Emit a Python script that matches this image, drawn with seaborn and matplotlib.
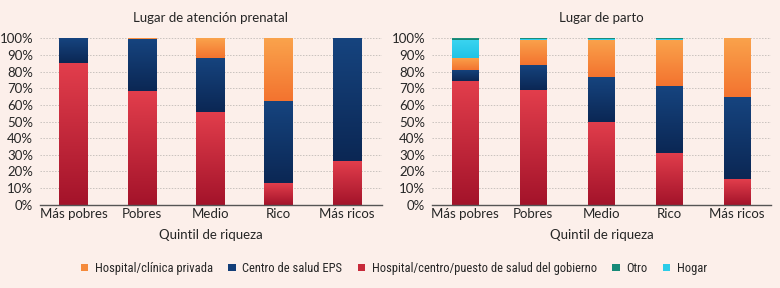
import numpy as np
import pandas as pd
import matplotlib
matplotlib.use("Agg")
import matplotlib.pyplot as plt
from matplotlib import font_manager
from matplotlib.colors import LinearSegmentedColormap
from matplotlib.patches import Patch
import seaborn as sns


# DATA (percent of births)

quintiles = ['Más pobres', 'Pobres', 'Medio', 'Rico', 'Más ricos']

# prenatal care
prenatal_gobierno = [85.0, 68.3, 55.5, 13.0, 26.0]
prenatal_eps = [15.0, 31.1, 32.7, 49.5, 74.0]
prenatal_privada = [0.0, 0.6, 11.8, 37.5, 0.0]
prenatal_hogar = [0.0, 0.0, 0.0, 0.0, 0.0]
prenatal_otro = [0.0, 0.0, 0.0, 0.0, 0.0]

# delivery
parto_gobierno = [74.3, 68.7, 49.9, 31.3, 15.6]
parto_eps = [6.7, 15.3, 26.8, 39.9, 48.9]
parto_privada = [7.3, 15.2, 22.5, 28.0, 35.5]
parto_hogar = [10.7, 0.5, 0.5, 0.5, 0.0]
parto_otro = [1.0, 0.3, 0.3, 0.3, 0.0]

legend_labels = [
    'Hospital/clínica privada',
    'Centro de salud EPS',
    'Hospital/centro/puesto de salud del gobierno',
    'Otro',
    'Hogar',
]

# STYLE

BG = '#fcefea'
TEXT = '#262626'

# (bottom colour, top colour) of each gradient
GRADIENTS = {
    'gobierno': ('#a3132a', '#e23e4c'),
    'eps': ('#0b2754', '#16447f'),
    'privada': ('#f3732f', '#faa34c'),
    'hogar': ('#1fc3e6', '#3ad4f0'),
    'otro': ('#13806f', '#1e9684'),
}
SOLID = {
    'privada': '#f58a3b',
    'eps': '#133e78',
    'gobierno': '#c72a3a',
    'otro': '#178a78',
    'hogar': '#2ccce8',
}


def pick_font(names):
    for name in names:
        try:
            font_manager.findfont(name, fallback_to_default=False)
            return name
        except Exception:
            continue
    return 'DejaVu Sans'


sns.set_theme(style='white')
MAIN_FONT = pick_font(['Lato', 'Open Sans', 'DejaVu Sans'])
NARROW_FONT = pick_font([
    'Roboto Condensed', 'Open Sans Condensed', 'Liberation Sans Narrow',
    'Arial Narrow', 'Roboto',
])
LEGEND_SIZE = 8.0 if NARROW_FONT in ('Roboto', 'DejaVu Sans') else 9.0
plt.rcParams['font.family'] = [MAIN_FONT, 'DejaVu Sans']


def stacked_gradient_bars(ax, layers, width):

    """
    layers: list of (key, values) from bottom to top.
    Bars are drawn with seaborn as cumulative heights,
    tallest first, then each one is filled with a gradient.
    """

    cumulative = np.cumsum([vals for _, vals in layers], axis=0)
    lowers = np.vstack([np.zeros(len(quintiles)), cumulative[:-1]])

    n = len(layers)
    for k in range(n - 1, -1, -1):
        key = layers[k][0]
        df = pd.DataFrame({'Quintil': quintiles, 'Valor': cumulative[k]})
        n_before = len(ax.patches)
        sns.barplot(
            data=df,
            x='Quintil',
            y='Valor',
            order=quintiles,
            color=SOLID[key],
            width=width,
            linewidth=0,
            saturation=1,
            errorbar=None,
            ax=ax,
        )
        cmap = LinearSegmentedColormap.from_list(key, GRADIENTS[key])
        grad = np.linspace(0, 1, 256).reshape(-1, 1)
        for i, patch in enumerate(ax.patches[n_before:]):
            lo = lowers[k][i]
            hi = cumulative[k][i]
            if hi - lo <= 0:
                continue
            patch.set_zorder(2 + (n - k) * 0.1)
            im = ax.imshow(
                grad,
                cmap=cmap,
                origin='lower',
                aspect='auto',
                extent=(patch.get_x(), patch.get_x() + patch.get_width(), lo, hi),
                zorder=2 + (n - k) * 0.1 + 0.05,
                interpolation='bilinear',
            )
            im.set_clip_path(patch)


def style_axes(ax, title):

    ax.set_facecolor(BG)
    ax.set_xlim(-0.49, 4.51)
    ax.set_ylim(0, 100)
    ax.set_yticks(np.arange(0, 101, 10))
    ax.set_yticklabels([f'{v}%' for v in range(0, 101, 10)])
    ax.yaxis.grid(True, color='#c9c2be', linestyle=(0, (1.5, 1.5)), linewidth=0.7, zorder=0)
    ax.set_axisbelow(True)
    for side in ['left', 'right', 'top']:
        ax.spines[side].set_visible(False)
    ax.spines['bottom'].set_color('#555555')
    ax.spines['bottom'].set_linewidth(1.0)
    ax.spines['bottom'].set_zorder(5)
    ax.tick_params(axis='both', length=0, labelsize=9.5, colors=TEXT, pad=2)
    ax.tick_params(axis='y', pad=5)
    ax.set_xlabel('Quintil de riqueza', fontsize=9.5, color=TEXT, labelpad=7)
    ax.set_ylabel('')
    ax.set_title(title, fontsize=9.5, color=TEXT, pad=12)


fig = plt.figure(figsize=(7.8, 2.88), dpi=100)
fig.patch.set_facecolor(BG)

ax1 = fig.add_axes([0.0513, 0.289, 0.438, 0.578])
ax2 = fig.add_axes([0.554, 0.289, 0.435, 0.578])

stacked_gradient_bars(
    ax1,
    [
        ('gobierno', prenatal_gobierno),
        ('eps', prenatal_eps),
        ('privada', prenatal_privada),
        ('hogar', prenatal_hogar),
        ('otro', prenatal_otro),
    ],
    width=0.41,
)
stacked_gradient_bars(
    ax2,
    [
        ('gobierno', parto_gobierno),
        ('eps', parto_eps),
        ('privada', parto_privada),
        ('hogar', parto_hogar),
        ('otro', parto_otro),
    ],
    width=0.39,
)

style_axes(ax1, 'Lugar de atención prenatal')
style_axes(ax2, 'Lugar de parto')

handles = [
    Patch(facecolor=SOLID[key], edgecolor='none')
    for key in ['privada', 'eps', 'gobierno', 'otro', 'hogar']
]
fig.legend(
    handles,
    legend_labels,
    loc='center',
    bbox_to_anchor=(0.505, 0.068),
    ncol=5,
    frameon=False,
    handlelength=0.6,
    handleheight=0.6,
    handletextpad=0.5,
    columnspacing=1.25,
    prop={'family': [NARROW_FONT, 'DejaVu Sans'], 'size': LEGEND_SIZE},
    labelcolor=TEXT,
)

fig.savefig('out.png', dpi=100, facecolor=BG)
